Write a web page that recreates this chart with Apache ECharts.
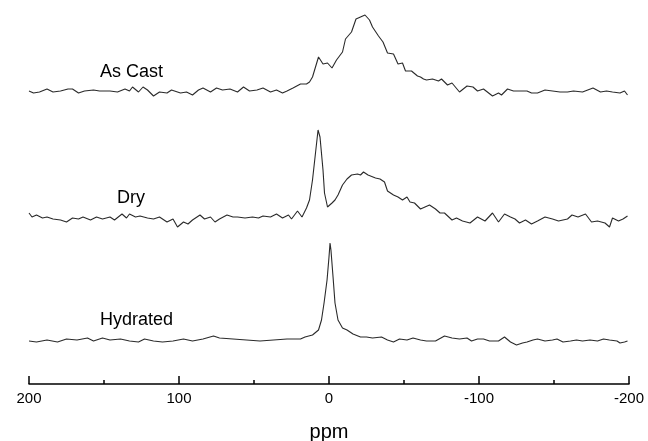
<!DOCTYPE html>
<html>
<head>
<meta charset="utf-8">
<script src="https://cdn.jsdelivr.net/npm/echarts@6/dist/echarts.min.js"></script>
<style>
html,body{margin:0;padding:0;background:#fff;}
#chart{width:648px;height:441px;}
</style>
</head>
<body>
<div id="chart"></div>
<script>
// Chemical shift (ppm) and relative intensity for each spectrum
const asCastPpm = [200,197,193,188,184,179,174,171,167,163,157,153,146,141,136,133,131,127,124,121,117,113,108,105,99,95,91,87,84,79,75,71,66,61,57,53,48,44,39,35,31,28,24,19,15,13,11,9,7,4,1,-2,-5,-9,-11,-15,-18,-21,-24,-27,-29,-33,-36,-39,-43,-46,-49,-51,-55,-59,-61,-63,-65,-69,-73,-75,-79,-82,-87,-92,-96,-99,-103,-109,-113,-115,-119,-123,-127,-132,-135,-139,-144,-149,-154,-159,-163,-169,-176,-181,-185,-189,-194,-197,-199];
const asCastInt = [1,-1,0,3,0,1,3,3,-1,1,2,1,1,0,3,1,5,0,5,2,-4,0,-1,2,-1,0,-3,2,4,0,4,2,3,0,5,1,2,4,0,2,-1,1,4,8,8,10,15,25,35,28,29,24,32,40,53,60,73,75,77,72,65,56,50,39,38,28,29,21,21,16,15,13,12,13,11,13,7,9,0,6,5,1,3,-4,-1,-3,3,1,1,1,-1,-1,2,1,0,0,1,0,4,0,1,0,-1,1,-3];

const dryPpm = [200,198,195,191,188,184,179,175,171,167,164,159,155,151,146,143,138,135,133,129,126,121,117,113,108,104,101,97,94,91,86,83,79,76,73,68,64,61,56,51,47,44,39,35,31,27,25,21,18,15,13,11,9,7.3,6,4,3,1,-2,-4,-6,-9,-12,-15,-19,-21,-23,-26,-31,-34,-37,-39,-43,-46,-49,-52,-54,-57,-61,-64,-67,-71,-74,-77,-82,-85,-89,-94,-99,-104,-109,-113,-117,-121,-124,-127,-131,-135,-139,-144,-149,-153,-159,-162,-166,-171,-175,-179,-184,-187,-189,-193,-196,-199];
const dryInt = [5,1,3,0,1,-1,-2,-4,0,-1,1,-2,1,-1,1,-2,4,0,4,1,2,0,-1,1,-4,-1,-9,-4,-6,-2,3,-1,1,-4,-1,3,1,1,0,1,0,2,1,4,0,3,-1,7,1,10,18,38,65,88,81,48,25,11,15,18,23,33,39,43,44,43,46,43,40,39,36,27,23,21,18,21,16,15,9,11,13,9,5,5,-2,0,-3,-5,1,-3,5,-4,4,1,-1,-5,-2,-6,-3,1,-1,-3,-1,3,1,4,-4,-3,-5,-9,0,-3,-1,2];

const hydratedPpm = [200,195,188,181,175,168,161,157,151,146,139,133,127,123,117,111,104,97,91,84,77,73,64,55,46,37,28,19,16,11,7,5,3.3,1.3,0,-0.7,-1.3,-2.7,-4,-6,-9,-12,-16,-21,-25,-29,-35,-39,-43,-47,-52,-56,-61,-65,-71,-77,-82,-87,-92,-95,-99,-103,-107,-113,-117,-121,-125,-129,-132,-136,-139,-144,-149,-152,-156,-161,-165,-169,-174,-179,-183,-187,-192,-194,-197,-199];
const hydratedInt = [-1,-2,0,-2,1,0,2,-1,2,0,1,-1,-2,1,-1,-2,-1,1,-1,1,4,2,1,0,-1,0,1,1,3,5,10,20,37,60,83,97,90,63,37,20,12,10,6,3,3,2,3,0,-2,1,0,2,0,-1,-1,4,2,1,2,-1,1,1,-1,-1,3,-2,-5,-3,-2,0,1,-1,0,1,-2,-1,0,-1,0,-1,1,0,-1,-3,-2,-1];

const seriesNames = ['As Cast', 'Dry', 'Hydrated'];
const xTickValues = [200, 100, 0, -100, -200];
const xAxisName = 'ppm';

// vertical stacking offsets of the spectra (display layout)
const offsets = [292, 166, 44];

function build(ppm, ints, off) {
  return ppm.map((p, i) => [p, ints[i] + off]);
}

const chart = echarts.init(document.getElementById('chart'), null, {renderer: 'canvas'});
const lineStyle = {color: '#2a2a2a', width: 1.1};
const sets = [[asCastPpm, asCastInt], [dryPpm, dryInt], [hydratedPpm, hydratedInt]];

chart.setOption({
  animation: false,
  backgroundColor: '#ffffff',
  grid: {left: 29, right: 19, top: 0, bottom: 57, outerBoundsMode: 'none', containLabel: false},
  xAxis: {
    type: 'value',
    inverse: true,
    min: -200,
    max: 200,
    interval: 100,
    name: xAxisName,
    nameLocation: 'middle',
    nameGap: 38,
    nameTextStyle: {fontFamily: 'Liberation Sans', fontSize: 20, color: '#000'},
    axisLine: {show: true, lineStyle: {color: '#000', width: 1.5}},
    axisTick: {show: true, inside: true, length: 8, lineStyle: {color: '#000', width: 1.5}},
    minorTick: {show: true, splitNumber: 2, length: 4, lineStyle: {color: '#000', width: 1.5}},
    splitLine: {show: false},
    axisLabel: {
      fontFamily: 'Liberation Sans', fontSize: 15, color: '#000', margin: 7,
      formatter: v => xTickValues.includes(v) ? String(v) : ''
    }
  },
  yAxis: {
    type: 'value', min: 0, max: 384, show: false
  },
  series: sets.map((s, k) => ({
    name: seriesNames[k],
    type: 'line',
    showSymbol: false,
    symbol: 'none',
    lineStyle: lineStyle,
    data: build(s[0], s[1], offsets[k])
  })),
  graphic: [
    {type: 'text', left: 100, top: 63, style: {text: seriesNames[0], font: '18px "Liberation Sans"', fill: '#000'}},
    {type: 'text', left: 117, top: 189, style: {text: seriesNames[1], font: '18px "Liberation Sans"', fill: '#000'}},
    {type: 'text', left: 100, top: 311, style: {text: seriesNames[2], font: '18px "Liberation Sans"', fill: '#000'}}
  ]
});
</script>
</body>
</html>
